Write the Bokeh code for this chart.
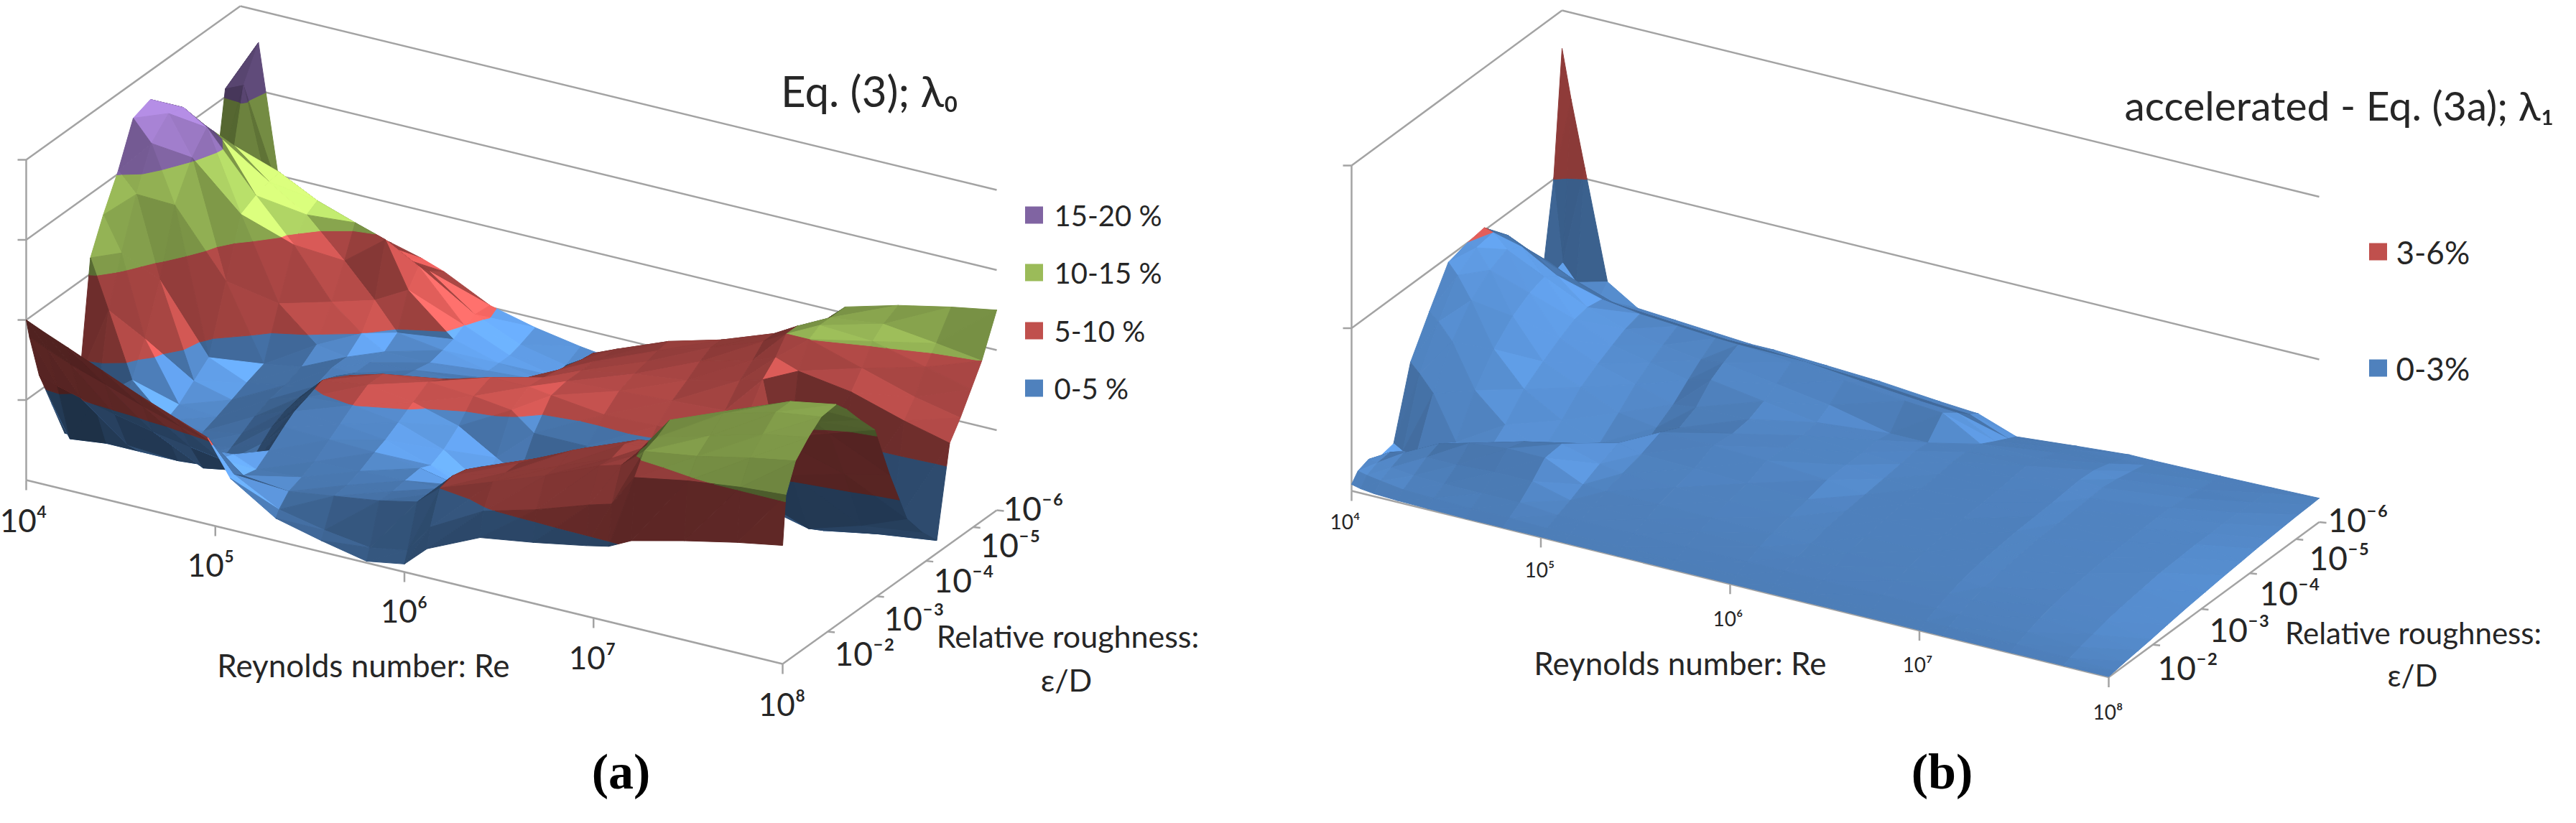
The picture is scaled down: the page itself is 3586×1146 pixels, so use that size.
from bokeh.plotting import figure
from bokeh.models import Range1d
from bokeh.layouts import row
from bokeh.core.properties import value
from bokeh.embed import file_html
from bokeh.resources import INLINE

BLUE, RED, GREEN, PURPLE = "#4f81bd", "#c0504d", "#9bbb59", "#8064a2"

# surface (a): error in % against position along Re axis (0=1e4, 1=1e8) and roughness axis (0=front, 1=1e-6)
re_a = [0, .024, .055, .1, .15, .2, .24, .27, .33, .39, .45, .5, .53, .6, .67, .74, .77, .8, .87, .94, 1]
eps_a = [0, .015, .06, .12, .18, .25, .3, .36, .43, .5, .58, .65, .72, .78, .83, .88, .93, 1]
err_a = [
    [10, 9.5, 8.9, 8, 7, 6.1, 5.4, 3.2, 1.4, .7, .1, .5, 1.8, 3.3, 3.8, 4.4, 4.7, 5.4, 6.2, 6.9, 7.4],
    [8.8, 8.3, 7.7, 7, 6.2, 5.5, 5, 3.3, 1.8, 1.2, .8, 1.2, 3, 4.8, 5.7, 6.8, 7.2, 9.2, 9.8, 10.2, 10.4],
    [6, 5.6, 5.2, 4.7, 4.2, 3.8, 3.5, 2.8, 2.5, 2.9, 3.3, 3.8, 5, 6.2, 7.4, 8.8, 9.2, 10.4, 10.9, 11.6, 12.1],
    [3.6, 1.7, 4.4, 2.2, 3.6, 1.9, 3.2, 2.6, 2.8, 3, 3.3, 3.7, 5.2, 6.2, 7.4, 8.7, 9.2, 10.7, 11.6, 12.5, 13],
    [1.2, 1.2, 1.2, 1.2, 1.2, 1.4, 1.6, 3.2, 3.2, 3.3, 3.4, 3.5, 5, 6.2, 7.8, 9, 9.2, 11.2, 12.4, 13.3, 13.7],
    [4, 3, 2, 1.6, 1.6, 1.9, 2.6, 4, 3.9, 3.8, 3.5, 3, 4.5, 5.8, 7.3, 8.6, 8.8, 10.6, 12, 13.3, 13.8],
    [11, 8, 4, 2, 1.9, 2.3, 3.2, 4.5, 4.4, 4.1, 3.2, 2.2, 3.2, 4.6, 6.2, 7.6, 8, 9.8, 11.2, 12.6, 13],
    [13.1, 11, 6, 2.4, 2.2, 2.8, 3.6, 4.8, 5, 4.6, 3.6, 2, 2, 3, 4.4, 5.6, 6, 8.2, 9.6, 11, 11.8],
    [15.2, 14, 9, 3.2, 2.6, 3.2, 3.8, 5.2, 5.6, 5.2, 4.4, 3, 2.2, 2.6, 3, 3.8, 3.8, 6.6, 8.5, 9.6, 10.5],
    [17.8, 16.5, 13, 4, 3, 3.4, 3.8, 4.8, 5.6, 5.8, 5.6, 5.3, 4.2, 4.2, 3.8, 2.8, 2.8, 4, 5.5, 6.4, 7],
    [18.2, 17.6, 15.2, 8, 3.4, 3.8, 4.2, 4.2, 4.6, 5.2, 6, 6, 5.8, 5.4, 5.5, 5.6, 5.6, 2.2, 1.4, 2.4, 3.5],
    [17.3, 17.3, 16.4, 11.5, 6.5, 4.5, 4.2, 4.2, 4.4, 4.5, 5, 5.9, 6, 6.2, 6.4, 6.6, 6.6, 1.2, .6, 1.2, 2],
    [15.5, 15.8, 15, 12, 9.5, 6.5, 5, 4.2, 4.2, 4, 4, 5.7, 6, 6.6, 7, 7.8, 8.2, 1.8, 1, .8, .8],
    [13.7, 14.5, 14, 12.3, 10.8, 8.5, 6.5, 4.8, 4.4, 3.8, 3.6, 5.5, 6, 6.8, 7.6, 8.5, 9, 8.5, 8, 7, 6.3],
    [11, 12.5, 13, 12.4, 11.2, 10.4, 9.8, 7, 4.6, 3.8, 3.4, 5.3, 5.8, 7, 8, 9.2, 10, 10, 9, 8, 7.4],
    [10, 12, 11.5, 11, 10, 9, 8.5, 8, 5, 3.8, 3.2, 5.2, 5.8, 7.1, 8, 9.2, 10, 10.4, 10.2, 9.4, 8.7],
    [15.5, 16, 10, 9.5, 9, 8.2, 7.6, 7.2, 5.2, 4, 3.4, 4.8, 5.2, 6.6, 7.4, 8.6, 9.2, 10.4, 10.8, 10.4, 10],
    [12, 18, 8.5, 8.3, 8, 7.5, 7, 6.5, 5.1, 4.4, 3.9, 3.6, 4, 5.5, 6.4, 7.6, 8.2, 10.4, 11.3, 12, 12.5],
]

# surface (b)
re_b = [0, .012, .03, .06, .1, .15, .2, .25, .28, .35, .42, .5, .55, .6, .68, .75, .78, .87, .94, 1]
eps_b = [0, .03, .08, .14, .2, .28, .37, .46, .55, .63, .7, .76, .83, .9, .96, 1]
err_b = [
    [.12, .08, .05, .03, .02, .01, .01, .01, .01, .01, .01, .01, .01, .01, .01, .01, .01, .01, .01, .01],
    [.28, .24, .2, .14, .12, .1, .1, .08, .08, .08, .08, .08, .08, .08, .08, .08, .08, .07, .06, .03],
    [.35, .33, .3, .26, .24, .24, .24, .18, .18, .18, .18, .18, .18, .18, .18, .18, .17, .15, .12, .06],
    [.25, .35, .4, .42, .42, .46, .46, .28, .28, .28, .28, .28, .27, .27, .27, .27, .26, .24, .18, .09],
    [.3, .2, .2, .5, .65, .72, .72, .4, .38, .38, .37, .36, .34, .34, .35, .35, .33, .3, .24, .12],
    [1.57, 1.4, 1.1, .3, .2, .62, .75, .55, .48, .46, .45, .43, .41, .41, .42, .42, .4, .36, .3, .17],
    [2.25, 2.1, 1.8, 1, .5, .2, .5, .68, .58, .56, .52, .5, .46, .46, .47, .47, .45, .41, .35, .22],
    [2.9, 2.7, 2.3, 1.5, .9, .5, .25, .2, .72, .72, .68, .6, .5, .5, .51, .51, .49, .45, .4, .26],
    [3, 2.95, 2.6, 1.85, 1.15, .85, .55, .45, .55, .68, .66, .62, .54, .53, .54, .53, .5, .47, .42, .3],
    [3.05, 3, 2.75, 2.05, 1.35, 1.05, .85, .65, .7, .72, .66, .62, .58, .56, .56, .55, .52, .49, .44, .33],
    [2.7, 2.75, 2.6, 2.15, 1.5, 1.2, 1.05, .9, 1, .85, .7, .65, .62, .6, .6, .58, .54, .5, .44, .36],
    [2.3, 2.4, 2.3, 2, 1.55, 1.32, 1.2, 1.1, 1.15, 1, .85, .6, .6, .6, .62, .6, .56, .5, .45, .38],
    [1.9, 2, 1.95, 1.75, 1.5, 1.4, 1.35, 1.3, 1.28, 1.2, 1.1, 1, .95, .55, .56, .58, .52, .48, .45, .4],
    [1.16, 1.4, 1.4, 1.3, 1.2, 1.15, 1.1, 1.05, 1.05, 1, .9, .8, .75, .4, .46, .5, .46, .44, .44, .42],
    [3, 1.5, 1.2, 1, .95, .9, .85, .8, .8, .75, .7, .6, .55, .28, .36, .4, .41, .42, .44, .43],
    [5.3, 4.4, 3.2, 1.2, .85, .8, .75, .7, .7, .65, .6, .5, .45, .2, .3, .38, .38, .4, .42, .44],
]

bands_a = [(0, 5, BLUE), (5, 10, RED), (10, 15, GREEN), (15, 20, PURPLE)]
bands_b = [(0, 3, BLUE), (3, 6, RED)]
legend_a = ["15-20 %", "10-15 %", "5-10 %", "0-5 %"]
legend_b = ["3-6%", "0-3%"]
re_labels = ["10⁴", "10⁵", "10⁶", "10⁷", "10⁸"]
eps_labels = ["10⁻⁶", "10⁻⁵", "10⁻⁴", "10⁻³", "10⁻²"]


def shade(color, s):
    rgb = [int(color[i:i + 2], 16) for i in (1, 3, 5)]
    return "#%02x%02x%02x" % tuple(min(255, int(c * s)) for c in rgb)


def clip(poly, lo, hi):
    # cut a triangle (u, v, z) to one colour band
    for limit, keep in ((lo, 1), (hi, -1)):
        out = []
        for i, a in enumerate(poly):
            b = poly[(i + 1) % len(poly)]
            da, db = (a[2] - limit) * keep, (b[2] - limit) * keep
            if da >= 0:
                out.append(a)
            if da * db < 0:
                t = da / (da - db)
                out.append(tuple(a[k] + t * (b[k] - a[k]) for k in range(3)))
        poly = out
        if not poly:
            break
    return poly


def draw_surface(p, res, epss, errs, bands, org, uvec, vvec, zpx, contrast=1):
    def project(pt):
        return (org[0] + uvec[0] * pt[0] + vvec[0] * pt[1],
                org[1] + uvec[1] * pt[0] + vvec[1] * pt[1] - zpx * pt[2])

    ulen = (uvec[0] ** 2 + uvec[1] ** 2) ** .5
    vlen = (vvec[0] ** 2 + vvec[1] ** 2) ** .5
    xs, ys, cols = [], [], []

    def tri(a, b, c):
        # plane slopes of the triangle
        d = (b[0] - a[0]) * (c[1] - a[1]) - (c[0] - a[0]) * (b[1] - a[1])
        zu = ((b[2] - a[2]) * (c[1] - a[1]) - (c[2] - a[2]) * (b[1] - a[1])) / d
        zv = ((b[0] - a[0]) * (c[2] - a[2]) - (c[0] - a[0]) * (b[2] - a[2])) / d
        gu, gv = zu * zpx / ulen, zv * zpx / vlen
        norm = (gu * gu + gv * gv + 1) ** .5
        nz, nu = 1 / norm, -gu / norm
        s = .36 + .64 * nz ** .6 + (1.3 if nu > 0 else .8) * nu * nz
        # falling away from the viewer: underside is seen
        if zv * zpx < vvec[1]:
            s *= .68
        s = 1 + (s - 1) * contrast
        s = max(.38, min(1.42, s))
        for lo, hi, col in bands:
            poly = clip([a, b, c], lo, hi)
            if len(poly) >= 3:
                pts = [project(q) for q in poly]
                xs.append([q[0] for q in pts])
                ys.append([q[1] for q in pts])
                cols.append(shade(col, s))

    for j in range(len(epss) - 2, -1, -1):
        for i in range(len(res) - 1):
            q00 = (res[i], epss[j], errs[j][i])
            q10 = (res[i + 1], epss[j], errs[j][i + 1])
            q01 = (res[i], epss[j + 1], errs[j + 1][i])
            q11 = (res[i + 1], epss[j + 1], errs[j + 1][i + 1])
            tri(q01, q11, q00)
            tri(q11, q10, q00)
    p.patches(xs, ys, fill_color=cols, line_color=cols, line_width=1)


def draw_box(p, org, uvec, vvec, zpx, zticks, eps_ticks):
    col = "#a3a3a3"
    P = lambda u, v, z: (org[0] + uvec[0] * u + vvec[0] * v, org[1] + uvec[1] * u + vvec[1] * v - zpx * z)

    def seg(a, b):
        p.line([a[0], b[0]], [a[1], b[1]], line_color=col, line_width=2.5)

    for z in zticks:
        seg(P(0, 0, z), P(0, 1, z))
        seg(P(0, 1, z), P(1, 1, z))
        seg((P(0, 0, z)[0] - 12, P(0, 0, z)[1]), P(0, 0, z))
    seg(P(0, 0, 0), P(0, 0, zticks[-1]))
    seg(P(0, 0, 0), P(1, 0, 0))
    seg(P(1, 0, 0), P(1, 1, 0))
    for u in (0, .25, .5, .75, 1):
        seg(P(u, 0, 0), (P(u, 0, 0)[0], P(u, 0, 0)[1] + 14))
    for v in eps_ticks:
        seg(P(1, v, 0), (P(1, v, 0)[0] + 10, P(1, v, 0)[1] + 1))


def txt(p, x, y, s, size, font="Lato", style="normal", color="#262626", align="center"):
    p.text([x], [y], text=[s], text_font=value(font), text_font_size=value(size), text_font_style=style,
           text_color=color, text_align=align, text_baseline="middle")


def panel(x0, x1):
    p = figure(width=x1 - x0, height=1130, x_range=Range1d(x0 + 8, x1 + 8), y_range=Range1d(1138, 8),
               output_backend="svg", toolbar_location=None, min_border=0,
               x_axis_location=None, y_axis_location=None, outline_line_color=None)
    p.grid.visible = False
    return p


# panel (a)
org, uvec, vvec, zpx = (44, 676), (1053, 256), (298, -214), 22.3
pa = panel(0, 1785)
draw_box(pa, org, uvec, vvec, zpx, [5, 10, 15, 20], [.21, .44, .67, .89, 1])
draw_surface(pa, re_a, eps_a, err_a, bands_a, org, uvec, vvec, zpx)
for s, x, y in zip(re_labels, [40, 301, 570, 832, 1096], [731, 793, 857, 922, 987]):
    txt(pa, x, y, s, "44px")
for s, x, y in zip(eps_labels, [1446, 1414, 1349, 1280, 1211], [715, 766, 815, 868, 917]):
    txt(pa, x, y, s, "46px")
txt(pa, 519, 933, "Reynolds number:  Re", "44px")
txt(pa, 1494, 893, "Relative roughness:", "43px")
txt(pa, 1492, 954, "ε/D", "43px")
txt(pa, 1218, 133, "Eq. (3); λ₀", "60px")
txt(pa, 872, 1082, "(a)", "70px", "Liberation Serif", "bold", "#000000")
for s, c, y in zip(legend_a, [PURPLE, GREEN, RED, BLUE], [307, 387, 468, 548]):
    pa.rect([1447], [y], width=25, height=24, fill_color=c, line_color=None)
    txt(pa, 1475, y, s, "40px", align="left")

# panel (b)
org, uvec, vvec, zpx = (1889, 691), (1054, 259.5), (293, -216), 75.5
pb = panel(1785, 3570)
draw_box(pb, org, uvec, vvec, zpx, [3, 6], [.21, .44, .67, .89, 1])
draw_surface(pb, re_b, eps_b, err_b, bands_b, org, uvec, vvec, zpx, contrast=.55)
for s, x, y in zip(re_labels, [1880, 2151, 2413, 2677, 2942], [733, 800, 868, 932, 998]):
    txt(pb, x, y, s, "28px")
for s, x, y in zip(eps_labels, [3290, 3264, 3195, 3125, 3053], [731, 784, 833, 884, 937]):
    txt(pb, x, y, s, "46px")
txt(pb, 2352, 930, "Reynolds number:  Re", "44px")
txt(pb, 3367, 888, "Relative roughness:", "42px")
txt(pb, 3366, 947, "ε/D", "42px")
txt(pb, 3264, 153, "accelerated - Eq. (3a); λ₁", "57px")
txt(pb, 2711, 1082, "(b)", "70px", "Liberation Serif", "bold", "#000000")
for s, c, y in zip(legend_b, [RED, BLUE], [358, 520]):
    pb.rect([3318], [y], width=25, height=24, fill_color=c, line_color=None)
    txt(pb, 3343, y, s, "44px", align="left")

page = row(pa, pb, spacing=0)
open("out.html", "w").write(file_html(page, INLINE))
